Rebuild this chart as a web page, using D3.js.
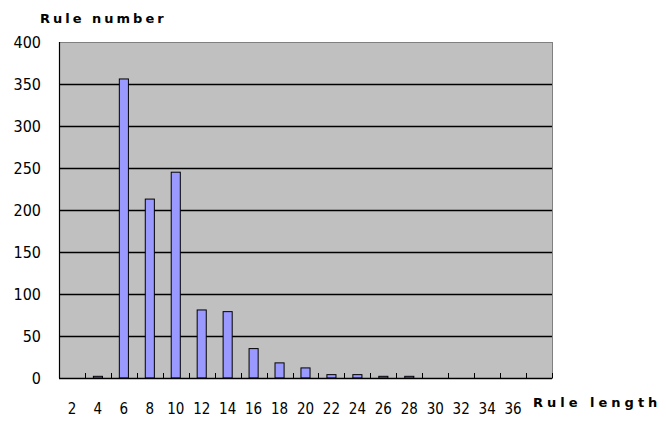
<!DOCTYPE html>
<html>
<head>
<meta charset="utf-8">
<script src="https://cdn.jsdelivr.net/npm/d3@7"></script>
<style>
  html, body { margin: 0; padding: 0; background: #fff; }
  svg { display: block; }
</style>
</head>
<body>
<svg id="chart" width="666" height="421"></svg>
<script>
// ---- data ----
const categories = [2, 4, 6, 8, 10, 12, 14, 16, 18, 20, 22, 24, 26, 28, 30, 32, 34, 36, 38];
const ruleCounts = [0, 2, 356, 213, 245, 81, 79, 35, 18, 12, 4, 4, 2, 2, 0, 0, 0, 0, 0];
const xTickLabels = ["2", "4", "6", "8", "10", "12", "14", "16", "18", "20", "22", "24", "26", "28", "30", "32", "34", "36", ""];
const yTickValues = [0, 50, 100, 150, 200, 250, 300, 350, 400];
const yTitle = "Rule number";
const xTitle = "Rule length";

(function () {
  const svg = d3.select("#chart");
  const pL = 59, pR = 552, pT = 42, pB = 378;

  const x = d3.scaleBand()
    .domain(categories)
    .range([pL, pR])
    .paddingInner(0.65)
    .paddingOuter(0.325);

  const y = d3.scaleLinear().domain([0, 400]).range([pB, pT]);

  // plot background
  svg.append("rect")
    .attr("x", pL + 0.5).attr("y", pT + 0.5)
    .attr("width", pR - pL).attr("height", pB - pT)
    .attr("fill", "#c0c0c0")
    .attr("stroke", "#808080").attr("stroke-width", 1);

  // gridlines
  svg.append("g")
    .selectAll("line")
    .data(yTickValues.filter(v => v > 0 && v < 400))
    .join("line")
    .attr("x1", pL).attr("x2", pR)
    .attr("y1", d => Math.round(y(d)) + 0.5).attr("y2", d => Math.round(y(d)) + 0.5)
    .attr("stroke", "#000").attr("stroke-width", 1.5);

  // bars
  svg.append("g")
    .selectAll("rect")
    .data(categories.map((c, i) => ({ c, v: ruleCounts[i] })).filter(d => d.v > 0))
    .join("rect")
    .attr("x", d => x(d.c))
    .attr("y", d => y(d.v))
    .attr("width", x.bandwidth())
    .attr("height", d => y(0) - y(d.v))
    .attr("fill", "#9999ff")
    .attr("stroke", "#000").attr("stroke-width", 1);

  // axis lines
  svg.append("line")
    .attr("x1", pL + 0.5).attr("x2", pL + 0.5)
    .attr("y1", pT).attr("y2", pB)
    .attr("stroke", "#000").attr("stroke-width", 1.2);
  svg.append("line")
    .attr("x1", pL).attr("x2", pR)
    .attr("y1", pB + 0.5).attr("y2", pB + 0.5)
    .attr("stroke", "#000").attr("stroke-width", 1.5);

  // between-category tick marks
  const step = x.step();
  const bounds = d3.range(1, categories.length + 1).map(k => pL + k * step);
  svg.append("g")
    .selectAll("line")
    .data(bounds)
    .join("line")
    .attr("x1", d => Math.round(d) + 0.5).attr("x2", d => Math.round(d) + 0.5)
    .attr("y1", pB).attr("y2", pB - 5)
    .attr("stroke", "#000").attr("stroke-width", 1);

  // y axis labels
  const yAxis = d3.axisLeft(y).tickValues(yTickValues).tickSize(0).tickPadding(18);
  const gy = svg.append("g").attr("transform", `translate(${pL},0)`).call(yAxis);
  gy.select(".domain").remove();
  gy.selectAll("text")
    .attr("font-family", "'DejaVu Sans Condensed', 'Liberation Sans Narrow', sans-serif")
    .attr("font-size", 16).attr("fill", "#000");

  // x axis labels
  const xAxis = d3.axisBottom(x).tickSize(0).tickPadding(25)
    .tickFormat((d, i) => xTickLabels[i]);
  const gx = svg.append("g").attr("transform", `translate(0,${pB})`).call(xAxis);
  gx.select(".domain").remove();
  gx.selectAll("text")
    .attr("font-family", "'DejaVu Sans Condensed', 'Liberation Sans Narrow', sans-serif")
    .attr("font-size", 15).attr("fill", "#000");

  // titles
  svg.append("text")
    .attr("x", 40).attr("y", 23)
    .attr("font-family", "'DejaVu Sans', sans-serif")
    .attr("font-weight", "bold").attr("font-size", 13)
    .attr("letter-spacing", 3)
    .text(yTitle);

  svg.append("text")
    .attr("x", 533).attr("y", 407)
    .attr("font-family", "'DejaVu Sans', sans-serif")
    .attr("font-weight", "bold").attr("font-size", 13)
    .attr("letter-spacing", 4)
    .text(xTitle);
})();
</script>
</body>
</html>
